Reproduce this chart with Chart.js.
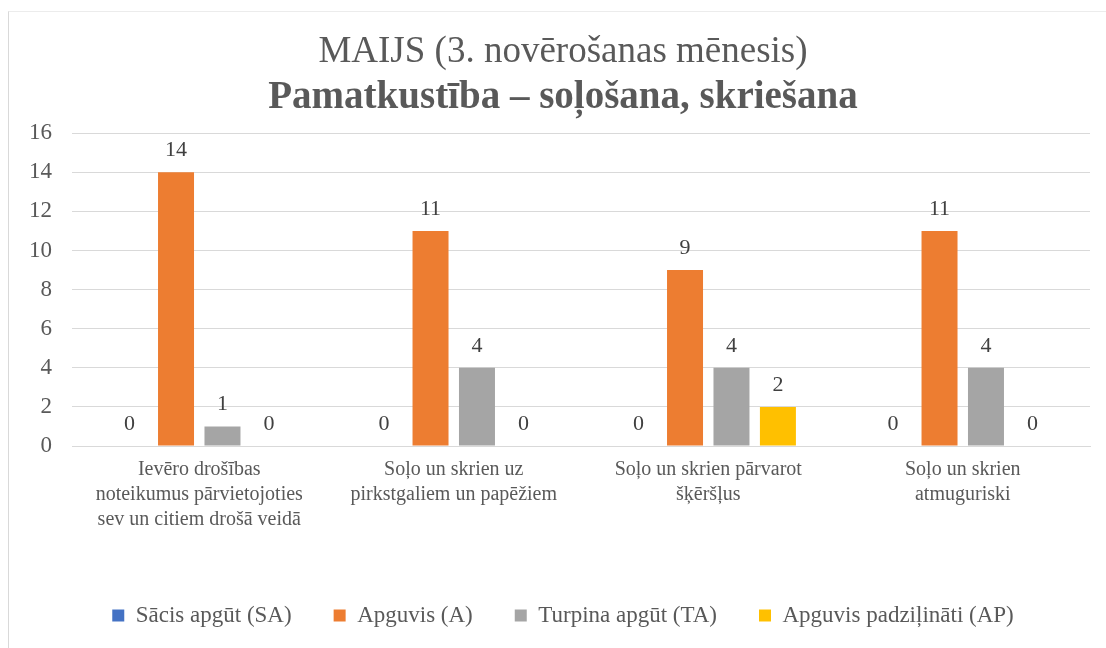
<!DOCTYPE html>
<html>
<head>
<meta charset="utf-8">
<script src="https://cdn.jsdelivr.net/npm/chart.js@4/dist/chart.umd.min.js"></script>
<style>
  html, body { margin: 0; padding: 0; background: #fff; overflow: hidden; }
  #wrap { position: absolute; left: 8px; top: 11px; width: 1110px; height: 650px; border: 1px solid #d9d9d9; border-top-color: #ececec; box-sizing: border-box; }
  #box { position: absolute; left: 0; top: 0; width: 1126px; height: 648px; }
</style>
</head>
<body>
<div id="wrap"></div>
<div id="box"><canvas id="chart"></canvas></div>
<script>
const categories = [
  ['Ievēro drošības', 'noteikumus pārvietojoties', 'sev un citiem drošā veidā'],
  ['Soļo un skrien uz', 'pirkstgaliem un papēžiem'],
  ['Soļo un skrien pārvarot', 'šķēršļus'],
  ['Soļo un skrien', 'atmuguriski']
];
const seriesNames = ['Sācis apgūt (SA)', 'Apguvis (A)', 'Turpina apgūt (TA)', 'Apguvis padziļināti (AP)'];
const sacisApgut = [0, 0, 0, 0];
const apguvis = [14, 11, 9, 11];
const turpinaApgut = [1, 4, 4, 4];
const apguvisPadzilinati = [0, 0, 2, 0];
const colors = ['#4472c4', '#ed7d31', '#a5a5a5', '#ffc000'];

const serif = '"Liberation Serif", "Times New Roman", serif';

// vērtības virs stabiņiem
const valueLabels = {
  id: 'valueLabels',
  afterDatasetsDraw(chart) {
    const c = chart.ctx;
    c.save();
    c.font = '22px ' + serif;
    c.fillStyle = '#404040';
    c.textAlign = 'center';
    c.textBaseline = 'alphabetic';
    chart.data.datasets.forEach((ds, i) => {
      chart.getDatasetMeta(i).data.forEach((bar, j) => {
        c.fillText(ds.data[j], bar.x, bar.y - 16);
      });
    });
    c.restore();
  }
};

const data = [sacisApgut, apguvis, turpinaApgut, apguvisPadzilinati];

new Chart(document.getElementById('chart'), {
  type: 'bar',
  data: {
    labels: categories,
    datasets: data.map((d, i) => ({
      label: seriesNames[i],
      data: d,
      backgroundColor: colors[i],
      categoryPercentage: 0.73,
      barPercentage: 0.775
    }))
  },
  options: {
    responsive: true,
    maintainAspectRatio: false,
    animation: false,
    layout: { padding: { left: 9, right: 9, top: 30, bottom: 11 } },
    plugins: {
      title: {
        display: true,
        text: 'MAIJS (3. novērošanas mēnesis)',
        color: '#595959',
        font: { family: serif, size: 37, weight: 'normal', lineHeight: 1.2 },
        padding: { top: 0, bottom: 0 }
      },
      subtitle: {
        display: true,
        text: 'Pamatkustība – soļošana, skriešana',
        color: '#595959',
        font: { family: serif, size: 39, weight: 'bold', lineHeight: 1.2 },
        padding: { top: 0, bottom: 12 }
      },
      legend: {
        position: 'bottom',
        labels: {
          color: '#595959',
          font: { family: serif, size: 23 },
          boxWidth: 12,
          boxHeight: 12,
          padding: 42
        }
      },
      tooltip: { enabled: false }
    },
    scales: {
      x: {
        grid: { display: false },
        border: { color: '#d9d9d9' },
        ticks: { color: '#595959', font: { family: serif, size: 20, lineHeight: 1.25 }, maxRotation: 0, autoSkip: false, padding: 3 },
        afterFit(scale) {
          scale.height = 116;
          scale.paddingLeft = 0;
          scale.paddingRight = 36;
        }
      },
      y: {
        min: 0,
        max: 16,
        ticks: { stepSize: 2, color: '#595959', font: { family: serif, size: 23 }, padding: 20 },
        grid: { color: '#d9d9d9', drawTicks: false },
        border: { display: false }
      }
    }
  },
  plugins: [valueLabels]
});
</script>
</body>
</html>
